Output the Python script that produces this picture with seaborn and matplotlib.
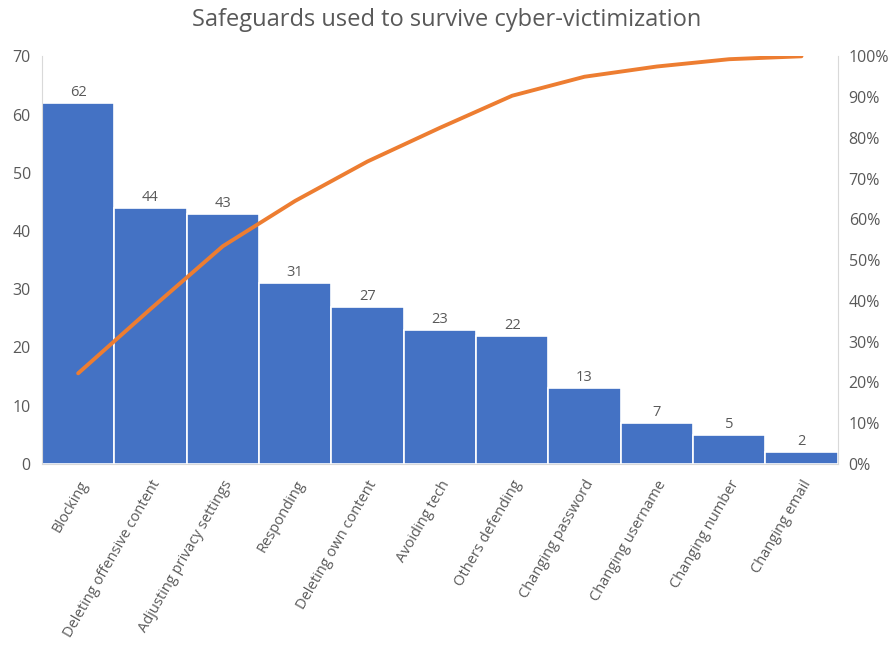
import numpy as np
import pandas as pd
import matplotlib.pyplot as plt
import seaborn as sns

safeguards = ["Blocking", "Deleting offensive content", "Adjusting privacy settings",
              "Responding", "Deleting own content", "Avoiding tech", "Others defending",
              "Changing password", "Changing username", "Changing number", "Changing email"]
counts = [62, 44, 43, 31, 27, 23, 22, 13, 7, 5, 2]

df = pd.DataFrame({"safeguard": safeguards, "count": counts})
# pareto line: running share of the total
df["cum_pct"] = np.cumsum(counts) / sum(counts) * 100

sns.set_style("white")
plt.rcParams['font.family'] = ['Open Sans', 'DejaVu Sans']
grey = "#595959"
spine_col = "#d9d9d9"

fig = plt.figure(figsize=(8.93, 6.47), dpi=100)
ax = fig.add_axes([0.047, 0.283, 0.891, 0.630])

sns.barplot(data=df, x="safeguard", y="count", color="#4472C4", saturation=1,
            width=1, edgecolor="white", linewidth=1.2, ax=ax)

for i, v in enumerate(counts):
    ax.text(i, v + 0.5, str(v), ha="center", va="bottom", fontsize=10.5, color=grey)

n = len(safeguards)
ax.set_xlim(-0.5, n - 0.5)
ax.set_ylim(0, 70)
ax.set_yticks(range(0, 71, 10))
ax.set_xlabel("")
ax.set_ylabel("")
ax.set_xticks(range(n))
ax.set_xticklabels(safeguards, rotation=60, ha="right", rotation_mode="anchor")
ax.set_xticks(np.arange(-0.5, n, 1), minor=True)
ax.tick_params(axis="x", which="major", length=0, pad=10, labelsize=10.5, labelcolor=grey)
ax.tick_params(axis="x", which="minor", length=5, color=spine_col, direction="out")
ax.tick_params(axis="y", length=0, labelsize=11.5, labelcolor=grey, pad=8)
for s in ["top", "right"]:
    ax.spines[s].set_visible(False)
for s in ["left", "bottom"]:
    ax.spines[s].set_color(spine_col)

ax2 = ax.twinx()
sns.lineplot(x=np.arange(n), y=df["cum_pct"], color="#ED7D31", linewidth=2.8, ax=ax2)
ax2.set_ylim(0, 100)
ax2.set_yticks(range(0, 101, 10))
ax2.set_yticklabels([f"{t}%" for t in range(0, 101, 10)])
ax2.set_ylabel("")
ax2.tick_params(axis="y", length=0, labelsize=11.5, labelcolor=grey, pad=8)
for s in ["top", "left", "bottom"]:
    ax2.spines[s].set_visible(False)
ax2.spines["right"].set_color(spine_col)

fig.suptitle("Safeguards used to survive cyber-victimization", y=0.988,
             fontsize=17, color=grey)

plt.savefig("out.png", dpi=100)
